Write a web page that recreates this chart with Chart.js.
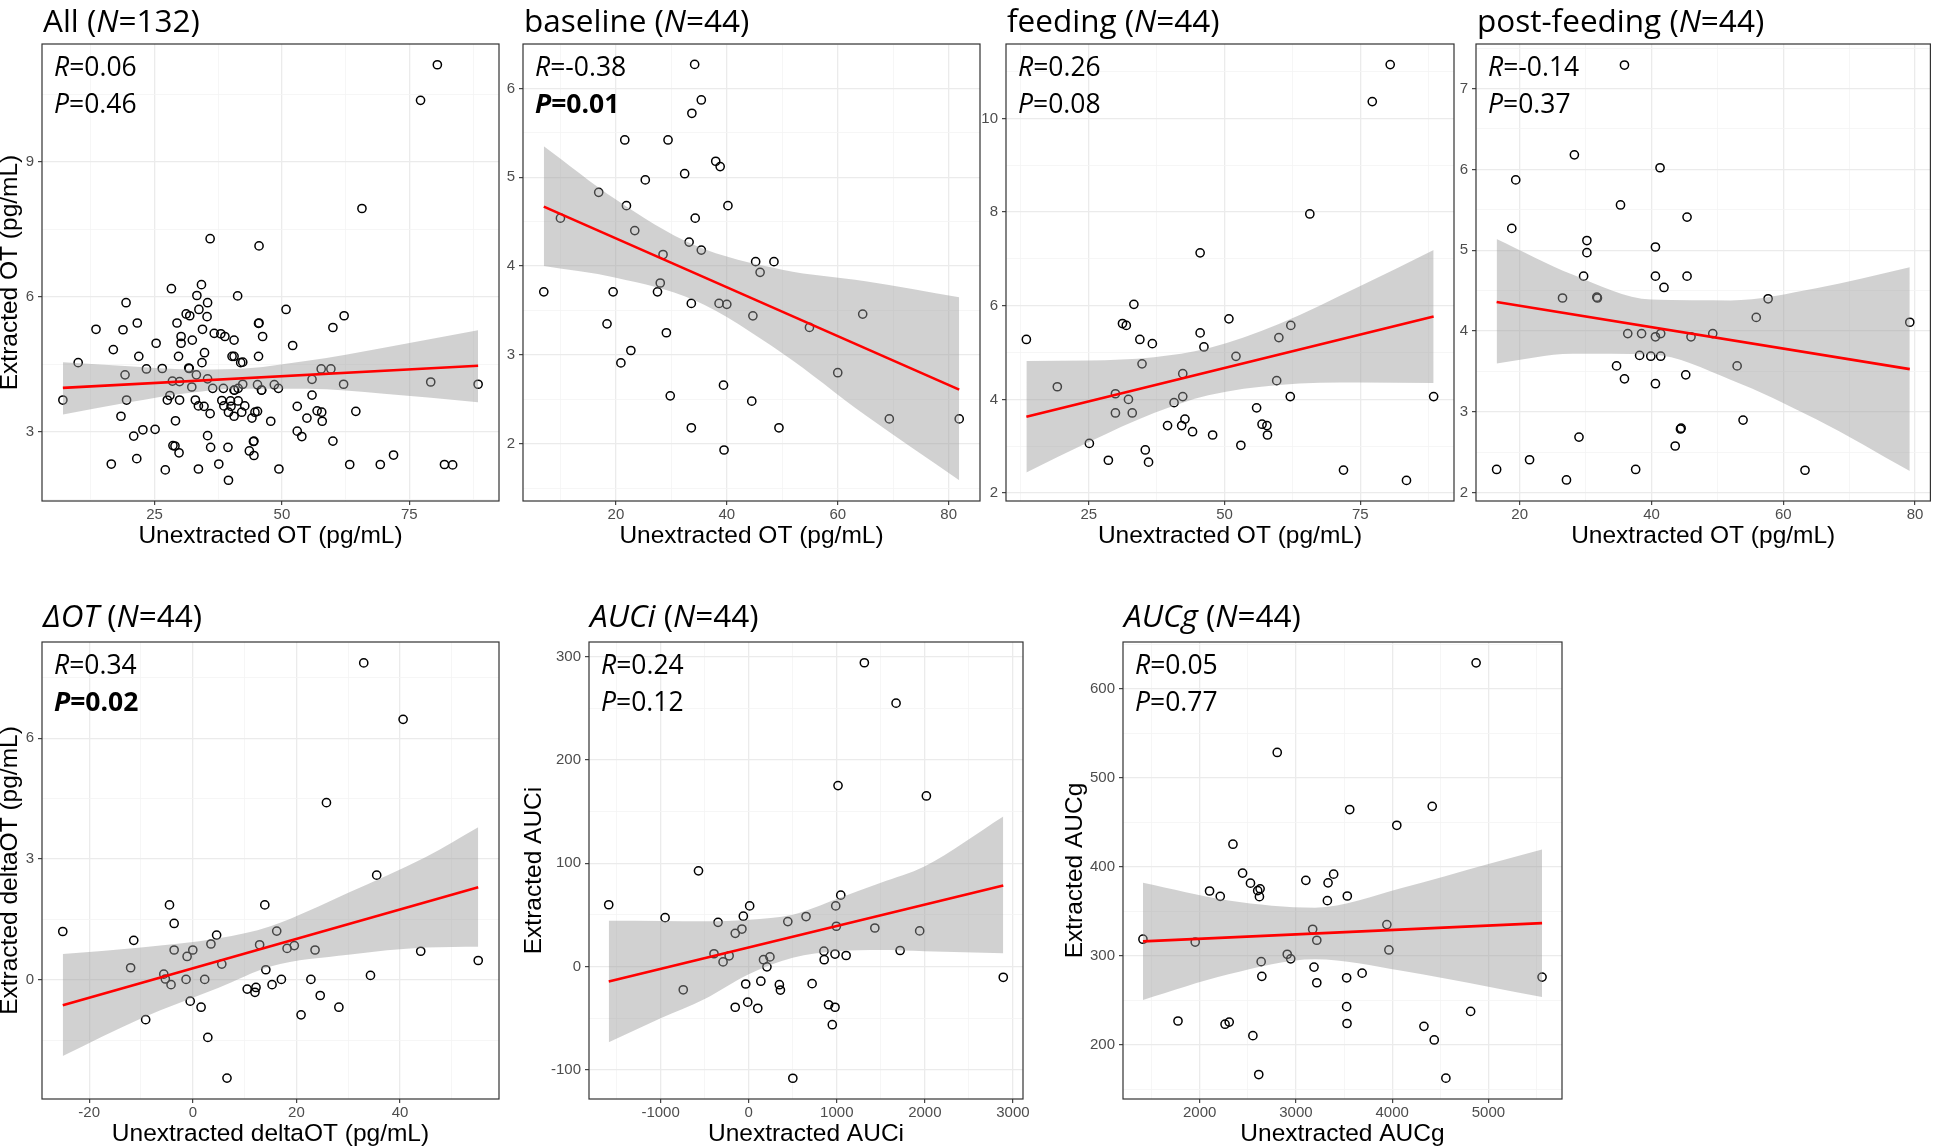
<!DOCTYPE html>
<html>
<head>
<meta charset="utf-8">
<script src="https://cdn.jsdelivr.net/npm/chart.js@4.4.1/dist/chart.umd.min.js"></script>
<style>
  html, body { margin: 0; padding: 0; background: #fff; }
  body { width: 1936px; height: 1148px; position: relative; overflow: hidden; }
  canvas { position: absolute; }
</style>
</head>
<body>
<script>
// values
const baselineX = [7.0, 10.0, 16.9, 18.4, 19.5, 20.9, 21.6, 21.9, 22.7, 23.4, 25.3, 27.5, 28.0, 28.5, 29.1, 29.4, 29.8, 32.4, 33.2, 33.6, 33.6, 33.7, 34.2, 34.3, 35.4, 35.4, 38.0, 38.6, 38.8, 39.4, 39.5, 40.0, 40.2, 44.5, 44.7, 45.2, 46.0, 48.5, 49.4, 54.9, 60.0, 64.5, 69.3, 81.9];
const baselineY = [3.71, 4.54, 4.83, 3.35, 3.71, 2.91, 5.42, 4.68, 3.05, 4.40, 4.97, 3.71, 3.81, 4.13, 3.25, 5.42, 2.54, 5.04, 4.27, 3.58, 2.18, 5.72, 6.27, 4.54, 5.87, 4.18, 5.18, 3.58, 5.12, 2.66, 1.93, 3.57, 4.68, 2.48, 3.44, 4.05, 3.93, 4.05, 2.18, 3.31, 2.80, 3.46, 2.28, 2.28];

const feedingX = [13.5, 19.2, 25.1, 28.6, 29.9, 29.9, 31.2, 31.9, 32.3, 33.0, 33.3, 34.4, 34.8, 35.4, 36.0, 36.7, 39.5, 40.7, 42.1, 42.3, 42.3, 42.7, 44.1, 45.5, 45.5, 46.2, 47.8, 50.8, 52.1, 53.0, 55.9, 56.9, 57.8, 57.9, 59.6, 60.0, 62.1, 62.2, 65.7, 71.9, 77.2, 80.5, 83.5, 88.5];
const feedingY = [5.28, 4.27, 3.06, 2.70, 4.12, 3.71, 5.62, 5.58, 4.00, 3.71, 6.03, 5.28, 4.76, 2.92, 2.66, 5.19, 3.44, 3.93, 3.44, 4.06, 4.55, 3.58, 3.31, 7.13, 5.42, 5.12, 3.24, 5.72, 4.92, 3.02, 3.82, 3.47, 3.44, 3.24, 4.40, 5.32, 4.06, 5.58, 7.96, 2.49, 10.36, 11.15, 2.27, 4.06];

const postX = [16.5, 18.8, 19.4, 21.5, 26.5, 27.1, 28.3, 29.0, 29.7, 30.2, 30.2, 31.7, 31.8, 34.7, 35.3, 35.9, 35.9, 36.4, 37.6, 38.2, 38.5, 39.9, 40.6, 40.6, 40.6, 40.6, 41.3, 41.4, 41.4, 41.9, 43.6, 44.4, 44.5, 45.2, 45.4, 45.4, 46.0, 49.3, 53.0, 53.9, 55.9, 57.7, 63.3, 79.2];
const postY = [2.29, 5.27, 5.87, 2.41, 4.41, 2.16, 6.18, 2.69, 4.68, 5.12, 4.97, 4.42, 4.41, 3.57, 5.56, 7.29, 3.41, 3.97, 2.29, 3.70, 3.97, 3.69, 3.93, 3.35, 5.04, 4.68, 6.02, 3.97, 3.69, 4.54, 2.58, 2.79, 2.80, 3.46, 5.41, 4.68, 3.93, 3.97, 3.57, 2.90, 4.17, 4.40, 2.28, 4.11];

// "All" is the three time points pooled
const allX = [...baselineX, ...feedingX, ...postX];
const allY = [...baselineY, ...feedingY, ...postY];

const deltaX = [-25.1, -12.0, -11.4, -9.1, -5.6, -5.3, -4.5, -4.2, -3.6, -3.6, -1.3, -1.1, -0.5, 0.0, 1.6, 2.3, 2.9, 3.5, 4.6, 5.6, 6.6, 10.5, 12.0, 12.2, 12.9, 13.9, 14.1, 15.3, 16.2, 17.1, 18.2, 19.6, 20.9, 22.8, 23.6, 24.6, 25.8, 28.2, 33.0, 34.3, 35.5, 40.6, 44.0, 55.1];
const deltaY = [1.20, 0.30, 0.98, -0.99, 0.14, 0.02, 1.86, -0.12, 0.74, 1.40, 0.01, 0.58, -0.53, 0.74, -0.68, 0.01, -1.43, 0.89, 1.11, 0.39, -2.44, -0.23, -0.31, -0.19, 0.87, 1.86, 0.25, -0.12, 1.21, 0.01, 0.78, 0.85, -0.87, 0.01, 0.74, -0.39, 4.40, -0.68, 7.87, 0.11, 2.60, 6.47, 0.71, 0.48];

const auciX = [-1589, -949, -743, -570, -394, -348, -291, -222, -153, -153, -77, -61, -34, -11, 11, 103, 138, 168, 207, 241, 348, 360, 444, 501, 651, 720, 854, 857, 907, 949, 980, 980, 988, 995, 1014, 1045, 1106, 1313, 1432, 1673, 1719, 1941, 2017, 2890];
const auciY = [59.8, 47.3, -22.5, 92.6, 12.4, 42.8, 4.5, 10.4, 32.1, -39.4, 36.3, 48.7, -16.9, -34.5, 58.7, -40.4, -14.2, 6.6, -0.3, 9.3, -17.6, -22.8, 43.5, -108.1, 48.4, -16.6, 14.9, 6.6, -37.0, -56.3, 12.1, -39.4, 58.7, 39.0, 175.1, 69.1, 10.7, 294.0, 37.3, 254.9, 15.5, 34.5, 165.1, -10.4];

const aucgX = [1411, 1775, 1954, 2103, 2214, 2264, 2307, 2346, 2446, 2528, 2553, 2603, 2628, 2621, 2614, 2639, 2646, 2806, 2910, 2946, 3103, 3174, 3188, 3217, 3217, 3327, 3334, 3392, 3527, 3527, 3531, 3534, 3559, 3688, 3945, 3966, 4048, 4330, 4416, 4437, 4558, 4815, 4872, 5557];
const aucgY = [318.5, 226.5, 315.3, 372.7, 366.7, 222.9, 225.3, 425.3, 392.8, 381.5, 210.0, 373.1, 375.1, 366.3, 166.3, 293.2, 276.7, 528.5, 301.6, 296.4, 384.7, 329.7, 287.1, 317.3, 269.5, 361.8, 381.9, 391.6, 275.1, 242.6, 223.7, 367.1, 464.3, 280.3, 334.9, 306.4, 446.6, 220.5, 467.9, 205.2, 162.2, 237.3, 629.3, 275.9];

// fitted lines and 95% bands
const allFitX = [7.0, 88.5], allFitY = [3.98, 4.47];
const allBandX = [7.0, 20, 32, 41, 55, 70, 88.5];
const allBandHi = [4.55, 4.46, 4.39, 4.40, 4.58, 4.87, 5.26];
const allBandLo = [3.39, 3.66, 3.87, 3.96, 3.96, 3.85, 3.66];

const baselineFitX = [7.0, 81.9], baselineFitY = [4.67, 2.61];
const baselineBandX = [7.0, 20, 34, 50, 65, 81.9];
const baselineBandHi = [5.35, 4.75, 4.24, 3.96, 3.83, 3.65];
const baselineBandLo = [4.00, 3.87, 3.62, 3.02, 2.32, 1.59];

const feedingFitX = [13.5, 88.5], feedingFitY = [3.63, 5.77];
const feedingBandX = [13.5, 25, 37, 47, 60, 75, 88.5];
const feedingBandHi = [4.82, 4.83, 4.90, 5.09, 5.61, 6.42, 7.19];
const feedingBandLo = [2.44, 3.09, 3.71, 4.09, 4.31, 4.36, 4.35];

const postFitX = [16.5, 79.2], postFitY = [4.36, 3.53];
const postBandX = [16.5, 28, 40, 52, 65, 79.2];
const postBandHi = [5.14, 4.70, 4.39, 4.38, 4.53, 4.79];
const postBandLo = [3.60, 3.72, 3.71, 3.40, 2.91, 2.27];

const deltaFitX = [-25.1, 55.1], deltaFitY = [-0.63, 2.30];
const deltaBandX = [-25.1, -10, 5, 15, 30, 45, 55.1];
const deltaBandHi = [0.64, 0.80, 1.03, 1.33, 2.16, 3.05, 3.79];
const deltaBandLo = [-1.89, -0.96, -0.20, 0.33, 0.62, 0.80, 0.82];

const auciFitX = [-1589, 2890], auciFitY = [-14.4, 78.5];
const auciBandX = [-1589, -1000, -500, 0, 500, 1000, 1500, 2000, 2890];
const auciBandHi = [44.2, 44.0, 43.8, 45.4, 50.2, 65.4, 81.0, 97.0, 145.1];
const auciBandLo = [-73.2, -50.0, -31.4, -7.4, 8.6, 14.9, 16.0, 14.9, 12.8];

const aucgFitX = [1411, 5557], aucgFitY = [316.1, 336.6];
const aucgBandX = [1411, 2300, 3200, 4100, 5000, 5557];
const aucgBandHi = [381.9, 362.0, 353.9, 376.0, 403.0, 419.3];
const aucgBandLo = [250.2, 279.0, 295.9, 283.0, 265.0, 253.4];

// tick labels
const allXTicks = [25, 50, 75], allYTicks = [3, 6, 9];
const baselineXTicks = [20, 40, 60, 80], baselineYTicks = [2, 3, 4, 5, 6];
const feedingXTicks = [25, 50, 75], feedingYTicks = [2, 4, 6, 8, 10];
const postXTicks = [20, 40, 60, 80], postYTicks = [2, 3, 4, 5, 6, 7];
const deltaXTicks = [-20, 0, 20, 40], deltaYTicks = [0, 3, 6];
const auciXTicks = [-1000, 0, 1000, 2000, 3000], auciYTicks = [-100, 0, 100, 200, 300];
const aucgXTicks = [2000, 3000, 4000, 5000], aucgYTicks = [200, 300, 400, 500, 600];

// panel texts
const panelNames = ['All', 'baseline', 'feeding', 'post-feeding', '\u0394OT', 'AUCi', 'AUCg'];
const panelN = [132, 44, 44, 44, 44, 44, 44];
const statR = ['0.06', '-0.38', '0.26', '-0.14', '0.34', '0.24', '0.05'];
const statP = ['0.46', '0.01', '0.08', '0.37', '0.02', '0.12', '0.77'];
const significant = [false, true, false, false, true, false, false];
const italicName = [false, false, false, false, true, true, true];
const xLabels = ['Unextracted OT (pg/mL)', 'Unextracted OT (pg/mL)', 'Unextracted OT (pg/mL)', 'Unextracted OT (pg/mL)',
                 'Unextracted deltaOT (pg/mL)', 'Unextracted AUCi', 'Unextracted AUCg'];
const yLabels = ['Extracted OT (pg/mL)', '', '', '', 'Extracted deltaOT (pg/mL)', 'Extracted AUCi', 'Extracted AUCg'];

const pts = (xs, ys) => xs.map((x, i) => ({ x: x, y: ys[i] }));

const panels = [
  { xs: allX, ys: allY, fitX: allFitX, fitY: allFitY, bandX: allBandX, hi: allBandHi, lo: allBandLo,
    xTicks: allXTicks, yTicks: allYTicks, xRange: [2.9, 92.6], yRange: [1.47, 11.61],
    box: [42, 44, 499, 501], yAxisW: 44, padR: 20, titleGap: 12.5 },
  { xs: baselineX, ys: baselineY, fitX: baselineFitX, fitY: baselineFitY, bandX: baselineBandX, hi: baselineBandHi, lo: baselineBandLo,
    xTicks: baselineXTicks, yTicks: baselineYTicks, xRange: [3.25, 85.65], yRange: [1.356, 6.5],
    box: [523, 44, 980, 501], yAxisW: 28, padR: 20, titleGap: 12.5 },
  { xs: feedingX, ys: feedingY, fitX: feedingFitX, fitY: feedingFitY, bandX: feedingBandX, hi: feedingBandHi, lo: feedingBandLo,
    xTicks: feedingXTicks, yTicks: feedingYTicks, xRange: [9.75, 92.25], yRange: [1.83, 11.59],
    box: [1006, 44, 1454, 501], yAxisW: 28, padR: 20, titleGap: 12.5 },
  { xs: postX, ys: postY, fitX: postFitX, fitY: postFitY, bandX: postBandX, hi: postBandHi, lo: postBandLo,
    xTicks: postXTicks, yTicks: postYTicks, xRange: [13.37, 82.33], yRange: [1.90, 7.55],
    box: [1476, 44, 1932, 501], yAxisW: 28, padR: 4, titleGap: 12.5 },
  { xs: deltaX, ys: deltaY, fitX: deltaFitX, fitY: deltaFitY, bandX: deltaBandX, hi: deltaBandHi, lo: deltaBandLo,
    xTicks: deltaXTicks, yTicks: deltaYTicks, xRange: [-29.11, 59.11], yRange: [-2.96, 8.39],
    box: [42, 642, 499, 1099], yAxisW: 44, padR: 20, titleGap: 15.5 },
  { xs: auciX, ys: auciY, fitX: auciFitX, fitY: auciFitY, bandX: auciBandX, hi: auciBandHi, lo: auciBandLo,
    xTicks: auciXTicks, yTicks: auciYTicks, xRange: [-1813, 3114], yRange: [-128.2, 314.1],
    box: [589, 642, 1023, 1099], yAxisW: 67, padR: 20, titleGap: 15.5 },
  { xs: aucgX, ys: aucgY, fitX: aucgFitX, fitY: aucgFitY, bandX: aucgBandX, hi: aucgBandHi, lo: aucgBandLo,
    xTicks: aucgXTicks, yTicks: aucgYTicks, xRange: [1203.7, 5764.3], yRange: [138.8, 652.7],
    box: [1123, 642, 1562, 1099], yAxisW: 60, padR: 20, titleGap: 15.5 }
];

function drawRich(ctx, parts, x, y, size) {
  ctx.textAlign = 'left';
  ctx.textBaseline = 'alphabetic';
  ctx.fillStyle = '#000';
  parts.forEach(([t, st = '']) => {
    ctx.font = (st.includes('i') ? 'italic ' : '') + (st.includes('b') ? 'bold ' : '') + size + 'px "Open Sans"';
    ctx.fillText(t, x, y);
    x += ctx.measureText(t).width;
  });
}

// panel border, title and R / P annotation
const panelDecor = {
  id: 'panelDecor',
  afterDraw(chart, args, opts) {
    const { ctx, chartArea: a } = chart;
    ctx.save();
    ctx.strokeStyle = '#333333';
    ctx.lineWidth = 1.2;
    ctx.strokeRect(a.left, a.top, a.right - a.left, a.bottom - a.top);
    drawRich(ctx, opts.title, a.left + 1, a.top - opts.titleGap, 31.5);
    drawRich(ctx, opts.rLine, a.left + 12, a.top + 32, 26.5);
    drawRich(ctx, opts.pLine, a.left + 12, a.top + 68.5, 26.5);
    ctx.restore();
  }
};

function withMinors(majors, min, max) {
  const step = majors[1] - majors[0];
  const out = majors.slice();
  majors.forEach(m => out.push(m - step / 2));
  out.push(majors[majors.length - 1] + step / 2);
  return out.filter(v => v >= min && v <= max).sort((a, b) => a - b);
}

function axisOpts(isX, p, label) {
  const majors = isX ? p.xTicks : p.yTicks;
  const [min, max] = isX ? p.xRange : p.yRange;
  const ticks = withMinors(majors, min, max);
  const major = c => c.tick && majors.includes(c.tick.value);
  return {
    type: 'linear',
    position: isX ? 'bottom' : 'left',
    min: min, max: max,
    afterBuildTicks: s => { s.ticks = ticks.map(v => ({ value: v })); },
    afterFit: s => { if (isX) s.height = 48; else s.width = p.yAxisW; },
    border: { display: false },
    grid: {
      color: c => major(c) ? '#EBEBEB' : '#F4F4F4',
      lineWidth: c => major(c) ? 1.3 : 0.8,
      tickColor: c => major(c) ? '#333333' : 'rgba(0,0,0,0)',
      tickLength: 4,
      tickWidth: 1.1
    },
    ticks: {
      autoSkip: false,
      maxRotation: 0,
      padding: isX ? 1 : 4,
      color: '#4D4D4D',
      font: { family: 'Liberation Sans', size: 15 },
      callback: v => majors.includes(v) ? String(v) : ''
    },
    title: {
      display: label !== '',
      text: label,
      color: '#000',
      font: { family: 'Liberation Sans', size: 24.5, lineHeight: 1 },
      padding: isX ? { top: 0, bottom: 1 } : { top: 0, bottom: 0 }
    }
  };
}

panels.forEach((p, k) => {
  const [l, t, r, b] = p.box;
  const topPad = 50, axisH = 48;
  const cx = l - p.yAxisW, cy = t - topPad;
  const cw = p.yAxisW + (r - l) + p.padR, ch = topPad + (b - t) + axisH;
  const canvas = document.createElement('canvas');
  canvas.width = cw; canvas.height = ch;
  canvas.style.left = cx + 'px'; canvas.style.top = cy + 'px';
  canvas.style.width = cw + 'px'; canvas.style.height = ch + 'px';
  document.body.appendChild(canvas);

  const name = italicName[k] ? [panelNames[k], 'i'] : [panelNames[k]];
  const title = [name, [' ('], ['N', 'i'], ['=' + panelN[k] + ')']];
  const rLine = [['R', 'i'], ['=' + statR[k]]];
  const pLine = significant[k] ? [['P', 'ib'], ['=' + statP[k], 'b']] : [['P', 'i'], ['=' + statP[k]]];

  new Chart(canvas, {
    type: 'scatter',
    data: {
      datasets: [
        { data: pts(p.xs, p.ys), pointStyle: 'circle', pointRadius: 4.1, pointBorderWidth: 1.5,
          pointBorderColor: '#000', pointBackgroundColor: 'rgba(0,0,0,0)', showLine: false, order: 3 },
        { data: pts(p.bandX, p.hi), showLine: true, borderWidth: 0, borderColor: 'rgba(0,0,0,0)',
          pointRadius: 0, fill: '+1', backgroundColor: 'rgba(153,153,153,0.45)',
          cubicInterpolationMode: 'monotone', order: 2 },
        { data: pts(p.bandX, p.lo), showLine: true, borderWidth: 0, borderColor: 'rgba(0,0,0,0)',
          pointRadius: 0, fill: false, cubicInterpolationMode: 'monotone', order: 2 },
        { data: pts(p.fitX, p.fitY), showLine: true, borderColor: '#FF0000', borderWidth: 2.6,
          pointRadius: 0, fill: false, order: 1 }
      ]
    },
    options: {
      responsive: false,
      animation: false,
      devicePixelRatio: 1,
      layout: { padding: { top: topPad, right: p.padR, bottom: 0, left: 0 } },
      plugins: {
        legend: { display: false },
        tooltip: { enabled: false },
        panelDecor: { title: title, rLine: rLine, pLine: pLine, titleGap: p.titleGap }
      },
      scales: {
        x: axisOpts(true, p, xLabels[k]),
        y: axisOpts(false, p, yLabels[k])
      }
    },
    plugins: [panelDecor]
  });
});
</script>
</body>
</html>
